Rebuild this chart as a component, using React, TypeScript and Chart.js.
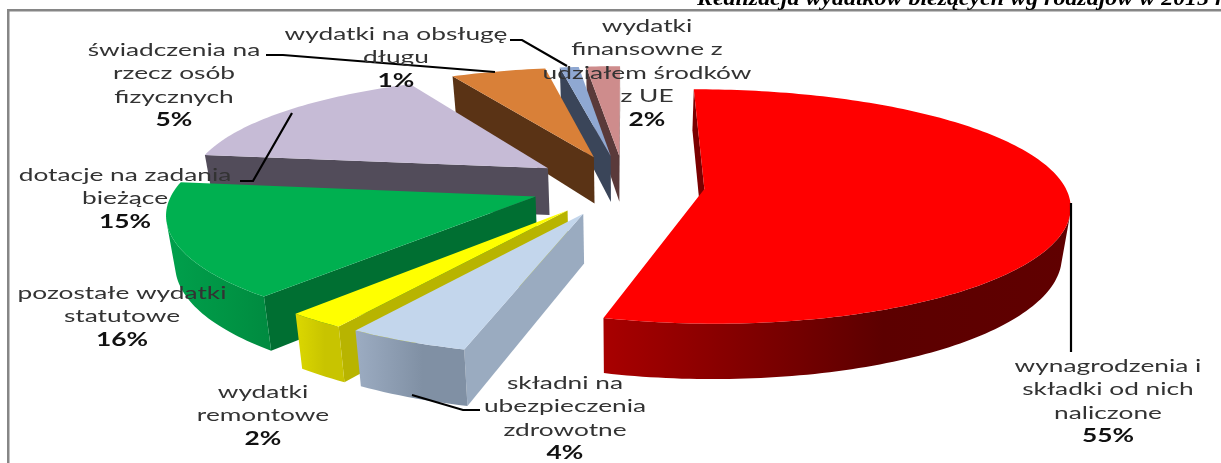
import React, { useEffect, useRef } from "react";
import { Chart, registerables } from "chart.js";

Chart.register(...registerables);

const categories = [
  "wynagrodzenia i składki od nich naliczone",
  "składni na ubezpieczenia zdrowotne",
  "wydatki remontowe",
  "pozostałe wydatki statutowe",
  "dotacje na zadania bieżące",
  "świadczenia na rzecz osób fizycznych",
  "wydatki na obsługę długu",
  "wydatki finansowne z udziałem środków z UE",
];
const values = [55, 4, 2, 16, 15, 5, 1, 2];
const percentLabels = ["55%", "4%", "2%", "16%", "15%", "5%", "1%", "2%"];
const explode = [80, 95, 95, 95, 95, 95, 95, 95];
const topColors = ["#FF0000", "#C3D6EC", "#FFFF00", "#00B050", "#C6BBD6", "#D98038", "#8FA8D2", "#CE8C8C"];
const cutColors = ["#7A0000", "#9AABC0", "#B8B400", "#006F32", "#524C5A", "#5A3315", "#3A4559", "#5A3A3A"];
const wallColors = [
  ["#A80000", "#5C0000", "#600000"],
  ["#9CACC2", "#8090A4", "#8090A4"],
  ["#DCD800", "#C8C400", "#C8C400"],
  ["#00A04C", "#009444", "#008A40"],
  ["#524C5A", "#524C5A", "#524C5A"],
  ["#5A3315", "#5A3315", "#5A3315"],
  ["#3A4559", "#3A4559", "#3A4559"],
  ["#5A3A3A", "#5A3A3A", "#5A3A3A"],
];
const labelLines = [
  ["wynagrodzenia i", "składki od nich", "naliczone"],
  ["składni na", "ubezpieczenia", "zdrowotne"],
  ["wydatki", "remontowe"],
  ["pozostałe wydatki", "statutowe"],
  ["dotacje na zadania", "bieżące"],
  ["świadczenia na", "rzecz osób", "fizycznych"],
  ["wydatki na obsługę", "długu"],
  ["wydatki", "finansowne z", "udziałem środków", "z UE"],
];
const labelCenters = [1108, 565, 263, 122, 125, 174, 396, 647];
const labelTops = [366, 383, 392, 293, 175, 50, 34, 26];
const titleText = "Realizacja wydatków bieżących wg rodzajów w 2015 r.";

const CX = 625, CY = 185, R = 360, B = 116, PX = 0.134, PY = 0.15, H = 48;
const LINE_H = 23.5, TEXT_SX = 1.46;
// Foreshortening of the 3D view: clock angle of the data -> clock angle on screen (degrees).
const VIEW_IN = [0, 198, 212.4, 219.6, 277.2, 352.8, 360];
const VIEW_OUT = [0, 195.8, 212.8, 220.9, 277, 353.5, 360];

type Pt = { x: number; y: number };

const viewAngle = (a: number) => {
  const deg = (((a + Math.PI / 2) * 180) / Math.PI + 720) % 360 || 0;
  const d = a + Math.PI / 2 >= 2 * Math.PI - 1e-9 ? 360 : deg;
  for (let i = 1; i < VIEW_IN.length; i++) {
    if (d <= VIEW_IN[i] + 1e-9) {
      const t = (d - VIEW_IN[i - 1]) / (VIEW_IN[i] - VIEW_IN[i - 1]);
      const out = VIEW_OUT[i - 1] + t * (VIEW_OUT[i] - VIEW_OUT[i - 1]);
      return (out * Math.PI) / 180 - Math.PI / 2;
    }
  }
  return a;
};

const project = (U: number, V: number, z: number): Pt => ({
  x: CX + U * R * (1 + PX * V) * (1 - 0.02 * z),
  y: CY + (B * V + H * z) * (1 + PY * V),
});

const area = (pts: Pt[]) => {
  let a = 0;
  for (let i = 0; i < pts.length; i++) {
    const p = pts[i], q = pts[(i + 1) % pts.length];
    a += p.x * q.y - q.x * p.y;
  }
  return a / 2;
};

const poly = (ctx: CanvasRenderingContext2D, pts: Pt[]) => {
  ctx.beginPath();
  pts.forEach((p, i) => (i ? ctx.lineTo(p.x, p.y) : ctx.moveTo(p.x, p.y)));
  ctx.closePath();
};

const drawSlice = (ctx: CanvasRenderingContext2D, arc: any, i: number) => {
  const { startAngle, endAngle } = arc;
  const mid = (startAngle + endAngle) / 2;
  const off = arc.options.offset / R;
  const ou = Math.cos(mid) * off, ov = Math.sin(mid) * off;
  const n = Math.max(4, Math.ceil((endAngle - startAngle) / 0.02));
  const model: [number, number][] = [[ou, ov]];
  for (let k = 0; k <= n; k++) {
    const a = viewAngle(startAngle + ((endAngle - startAngle) * k) / n);
    model.push([ou + Math.cos(a), ov + Math.sin(a)]);
  }
  const top = model.map(([u, v]) => project(u, v, 0));
  const low = model.map(([u, v]) => project(u, v, 1));
  const sign = Math.sign(area(top));
  const facing = (k: number) => {
    const j = (k + 1) % model.length;
    return Math.sign(area([top[k], top[j], low[j], low[k]])) !== sign;
  };
  const cuts = [0, model.length - 1];
  cuts.forEach((k) => {
    if (!facing(k)) return;
    const j = (k + 1) % model.length;
    poly(ctx, [top[k], top[j], low[j], low[k]]);
    ctx.fillStyle = cutColors[i];
    ctx.fill();
  });
  const runs: number[][] = [];
  for (let k = 1; k < model.length - 1; k++) {
    if (!facing(k)) continue;
    const last = runs[runs.length - 1];
    if (last && last[last.length - 1] === k) last.push(k + 1);
    else runs.push([k, k + 1]);
  }
  const xs = runs.flat().flatMap((k) => [top[k].x, low[k].x]);
  if (xs.length) {
    const grad = ctx.createLinearGradient(Math.min(...xs), 0, Math.max(...xs), 0);
    grad.addColorStop(0, wallColors[i][0]);
    grad.addColorStop(0.6, wallColors[i][1]);
    grad.addColorStop(1, wallColors[i][2]);
    runs.forEach((run) => {
      poly(ctx, [...run.map((k) => top[k]), ...run.slice().reverse().map((k) => low[k])]);
      ctx.fillStyle = grad;
      ctx.fill();
    });
  }
  poly(ctx, top);
  ctx.fillStyle = arc.options.backgroundColor;
  ctx.fill();
};

const stretchedText = (ctx: CanvasRenderingContext2D, text: string, x: number, y: number, sx: number) => {
  ctx.save();
  ctx.translate(x, y);
  ctx.scale(sx, 1);
  ctx.fillText(text, 0, 0);
  ctx.restore();
};

const leader = (ctx: CanvasRenderingContext2D, pts: number[][]) => {
  ctx.beginPath();
  pts.forEach(([x, y], i) => (i ? ctx.lineTo(x, y) : ctx.moveTo(x, y)));
  ctx.strokeStyle = "#000";
  ctx.lineWidth = 2.2;
  ctx.stroke();
};

const pie3d = {
  id: "pie3d",
  beforeDatasetsDraw(chart: any) {
    const ctx: CanvasRenderingContext2D = chart.ctx;
    const arcs = chart.getDatasetMeta(0).data;
    ctx.save();
    ctx.fillStyle = "#fff";
    ctx.fillRect(0, 0, chart.width, chart.height);

    ctx.fillStyle = "#868686";
    ctx.fillRect(7, 9, chart.width - 7, 2.5);
    ctx.fillRect(7, 9, 2.5, chart.height - 9);

    ctx.fillStyle = "#000";
    ctx.font = "italic bold 21px 'Liberation Serif'";
    ctx.textAlign = "left";
    ctx.textBaseline = "alphabetic";
    stretchedText(ctx, titleText, 697, 5, 1.14);

    [7, 6, 5, 4, 3, 2, 1, 0].forEach((i) => drawSlice(ctx, arcs[i], i));

    ctx.filter = "blur(0.4px)";
    leader(ctx, [[1071, 203], [1071, 352]]);
    leader(ctx, [[412, 395], [463, 410], [480, 410]]);
    leader(ctx, [[240, 181], [253, 181], [292, 113]]);
    leader(ctx, [[266, 55], [283, 55], [495, 72]]);
    leader(ctx, [[510, 40], [522, 40], [567, 66]]);

    ctx.textAlign = "center";
    ctx.textBaseline = "middle";
    labelLines.forEach((lines, i) => {
      ctx.font = "18px Lato";
      ctx.fillStyle = "#333";
      lines.forEach((t, k) => stretchedText(ctx, t, labelCenters[i], labelTops[i] + k * LINE_H, TEXT_SX));
      ctx.font = "bold 18px Lato";
      ctx.fillStyle = "#111";
      stretchedText(ctx, percentLabels[i], labelCenters[i], labelTops[i] + lines.length * LINE_H, TEXT_SX);
    });
    ctx.restore();
    return false;
  },
};

export default function App() {
  const ref = useRef<HTMLCanvasElement>(null);
  useEffect(() => {
    document.body.style.margin = "0";
    document.body.style.overflow = "hidden";
    const chart = new Chart(ref.current!, {
      type: "pie",
      data: {
        labels: categories,
        datasets: [{ data: values, backgroundColor: topColors, offset: explode, borderWidth: 0 }],
      },
      options: {
        responsive: false,
        animation: false,
        rotation: 0,
        plugins: { legend: { display: false }, tooltip: { enabled: false }, title: { display: false } },
      },
      plugins: [pie3d],
    } as any);
    return () => chart.destroy();
  }, []);
  return <canvas ref={ref} width={1221} height={463} style={{ display: "block" }} />;
}
